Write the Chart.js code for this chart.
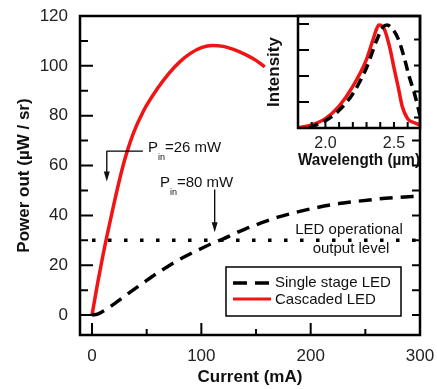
<!DOCTYPE html>
<html>
<head>
<meta charset="utf-8">
<script src="https://cdn.jsdelivr.net/npm/chart.js@4"></script>
<style>
  body { margin: 0; background: #fff; }
  #wrap { position: relative; width: 437px; height: 389px; }
  #main { position: absolute; left: 0; top: 0; }
  #inset { position: absolute; left: 250px; top: 0; }
</style>
</head>
<body>
<div id="wrap">
  <canvas id="main" width="437" height="389"></canvas>
  <canvas id="inset" width="187" height="175"></canvas>
</div>
<script>
// main plot: output power vs drive current
const currentCascaded = [0, 5, 10, 15, 20, 25, 30, 35, 40, 45, 50, 60, 70, 80, 90, 100, 110, 120, 130, 140, 150, 158];
const powerCascaded = [0, 12.5, 24, 34.5, 44.5, 54, 62.5, 69.5, 75.3, 80, 84.2, 91, 96.8, 101.5, 105, 107.3, 108.2, 107.8, 106.5, 104.6, 102.2, 99.6];

const currentSingle = [0, 5, 10, 15, 20, 30, 40, 50, 60, 70, 80, 90, 100, 110, 120, 130, 140, 150, 160, 170, 180, 190, 200, 220, 240, 260, 280, 300];
const powerSingle = [0, 0.4, 1.5, 2.8, 4.4, 7.6, 10.8, 13.9, 16.9, 19.7, 22.3, 24.6, 26.7, 28.8, 30.6, 32.6, 34.5, 36.2, 37.8, 39.3, 40.5, 41.6, 42.6, 44.3, 45.5, 46.5, 47.2, 47.8];

const operationalLevel = 30;
const xTickLabels = [0, 100, 200, 300];
const yTickLabels = [0, 20, 40, 60, 80, 100, 120];

// inset: emission spectra
const wavelengthCascaded = [1.8, 1.9, 2.0, 2.1, 2.2, 2.3, 2.35, 2.39, 2.43, 2.47, 2.5, 2.53, 2.56, 2.6, 2.65, 2.69];
const intensityCascaded = [0, 0.03, 0.09, 0.21, 0.4, 0.66, 0.86, 0.99, 0.95, 0.77, 0.58, 0.4, 0.21, 0.09, 0.05, 0.03];
const wavelengthSingle = [1.88, 1.95, 2.0, 2.1, 2.2, 2.3, 2.37, 2.42, 2.45, 2.49, 2.53, 2.57, 2.61, 2.65, 2.69];
const intensitySingle = [0, 0.04, 0.07, 0.17, 0.33, 0.58, 0.83, 0.97, 0.99, 0.95, 0.86, 0.7, 0.5, 0.33, 0.12];
const insetTickLabels = [2.0, 2.5];

// annotation anchors in data units
const pin26 = { x: 13.5, yTop: 65.8, yTip: 53.6, xEnd: 46.5 };
const pin80 = { x: 112.2, yTop: 50.4, yTip: 33.2 };

const RED = "#f01414";
const FONT = "'Liberation Sans', Arial, sans-serif";

const pts = (xs, ys) => xs.map((x, i) => ({ x, y: ys[i] }));

// drop the extra room chart.js keeps for edge labels
const noPad = s => { s.paddingTop = 0; s.paddingBottom = 0; s.paddingLeft = 0; s.paddingRight = 0; };

function arrow(ctx, x1, y1, x2, y2) {
  ctx.beginPath();
  ctx.moveTo(x1, y1);
  ctx.lineTo(x2, y2 - 8);
  ctx.stroke();
  ctx.beginPath();
  ctx.moveTo(x2, y2);
  ctx.lineTo(x2 - 3, y2 - 10);
  ctx.lineTo(x2 + 3, y2 - 10);
  ctx.closePath();
  ctx.fill();
}

function pinLabel(ctx, x, y, value) {
  ctx.textBaseline = "middle";
  ctx.textAlign = "left";
  ctx.font = "15px " + FONT;
  ctx.fillText("P", x, y);
  let w = ctx.measureText("P").width;
  ctx.font = "9px " + FONT;
  ctx.fillText("in", x + w, y + 10);
  w += ctx.measureText("in").width;
  ctx.font = "15px " + FONT;
  ctx.fillText("=" + value + " mW", x + w, y);
}

function ticksIn(ctx, scale, values, len, side, area) {
  ctx.beginPath();
  values.forEach(v => {
    const p = scale.getPixelForValue(v);
    if (side === "left") { ctx.moveTo(area.left, p); ctx.lineTo(area.left + len, p); }
    if (side === "right") { ctx.moveTo(area.right, p); ctx.lineTo(area.right - len, p); }
    if (side === "bottom") { ctx.moveTo(p, area.bottom); ctx.lineTo(p, area.bottom - len); }
  });
  ctx.stroke();
}

const mainDecor = {
  id: "mainDecor",
  afterDraw(chart) {
    const { ctx, chartArea: a, scales: { x, y } } = chart;
    ctx.save();
    ctx.strokeStyle = "#000";
    ctx.fillStyle = "#111";
    ctx.lineWidth = 2;
    ticksIn(ctx, y, [0, 20, 40, 60, 80, 100], 13, "left", a);
    ticksIn(ctx, y, [10, 30, 50, 70, 90, 110], 8, "left", a);
    ticksIn(ctx, x, [0, 100, 200], 12, "bottom", a);
    ticksIn(ctx, x, [50, 150, 250], 6, "bottom", a);
    ticksIn(ctx, y, [0, 10, 20, 30, 40, 50, 60, 70], 8, "right", a);
    ctx.lineWidth = 2.5;
    ctx.strokeRect(a.left, a.top, a.right - a.left, a.bottom - a.top);

    // arrows
    ctx.lineWidth = 1.3;
    const x26 = x.getPixelForValue(pin26.x), y26 = y.getPixelForValue(pin26.yTop);
    ctx.beginPath();
    ctx.moveTo(x.getPixelForValue(pin26.xEnd), y26);
    ctx.lineTo(x26, y26);
    ctx.stroke();
    arrow(ctx, x26, y26, x26, y.getPixelForValue(pin26.yTip));
    const x80 = x.getPixelForValue(pin80.x);
    arrow(ctx, x80, y.getPixelForValue(pin80.yTop), x80, y.getPixelForValue(pin80.yTip));

    pinLabel(ctx, 148, 148, 26);
    pinLabel(ctx, 160, 183, 80);

    ctx.font = "15px " + FONT;
    ctx.textAlign = "center";
    ctx.textBaseline = "middle";
    ctx.fillText("LED operational", 349, 230);
    ctx.fillText("output level", 351, 249);

    // legend
    ctx.lineWidth = 1.5;
    ctx.strokeRect(226, 267, 175, 49);
    ctx.lineWidth = 3.5;
    ctx.setLineDash([14, 8]);
    ctx.beginPath(); ctx.moveTo(233, 283); ctx.lineTo(271, 283); ctx.stroke();
    ctx.setLineDash([]);
    ctx.strokeStyle = RED;
    ctx.lineWidth = 3;
    ctx.beginPath(); ctx.moveTo(233, 299); ctx.lineTo(271, 299); ctx.stroke();
    ctx.textAlign = "left";
    ctx.fillText("Single stage LED", 275, 283);
    ctx.fillText("Cascaded LED", 275, 300);
    ctx.restore();
  }
};

new Chart(document.getElementById("main"), {
  type: "line",
  data: {
    datasets: [
      {
        data: pts(currentSingle, powerSingle),
        borderColor: "#000", borderWidth: 3.5, borderDash: [13, 8],
        pointRadius: 0, cubicInterpolationMode: "monotone"
      },
      {
        data: pts(currentCascaded, powerCascaded),
        borderColor: RED, borderWidth: 3.5,
        pointRadius: 0, cubicInterpolationMode: "monotone"
      },
      {
        data: [{ x: 0, y: operationalLevel }, { x: 300, y: operationalLevel }],
        borderColor: "#000", borderWidth: 3.5, borderDash: [3.5, 12.5],
        pointRadius: 0
      }
    ]
  },
  options: {
    responsive: false,
    animation: false,
    layout: { padding: { left: 0, top: 16, right: 17, bottom: 0 } },
    plugins: { legend: { display: false }, tooltip: { enabled: false } },
    scales: {
      x: {
        type: "linear", min: -11, max: 300,
        afterBuildTicks: s => { s.ticks = xTickLabels.map(v => ({ value: v })); },
        afterFit: s => { s.height = 54; noPad(s); },
        grid: { display: false, drawTicks: false },
        border: { display: false },
        ticks: { padding: 11, color: "#222", font: { family: FONT, size: 17 } },
        title: { display: true, text: "Current (mA)", color: "#111", padding: { top: 0, bottom: 1 },
                 font: { family: FONT, size: 17, weight: "bold" } }
      },
      y: {
        type: "linear", min: -8, max: 120,
        afterBuildTicks: s => { s.ticks = yTickLabels.map(v => ({ value: v })); },
        afterFit: s => { s.width = 80; noPad(s); },
        grid: { display: false, drawTicks: false },
        border: { display: false },
        ticks: { padding: 12, color: "#222", font: { family: FONT, size: 17 } },
        title: { display: true, text: "Power out (µW / sr)", color: "#111", padding: { top: 14, bottom: 0 },
                 font: { family: FONT, size: 17, weight: "bold" } }
      }
    }
  },
  plugins: [mainDecor]
});

const insetDecor = {
  id: "insetDecor",
  afterDraw(chart) {
    const { ctx, chartArea: a, scales: { x, y } } = chart;
    ctx.save();
    ctx.strokeStyle = "#000";
    ctx.lineWidth = 2;
    ticksIn(ctx, y, [0.25, 0.5, 0.75, 1.0], 11, "left", a);
    ticksIn(ctx, y, [0.1, 0.35, 0.6, 0.85], 6, "right", a);
    ticksIn(ctx, x, [1.9, 2.0, 2.1, 2.2, 2.3, 2.4, 2.5, 2.6], 6, "bottom", a);
    ctx.lineWidth = 2.5;
    ctx.strokeRect(a.left, a.top, a.right - a.left, a.bottom - a.top);
    ctx.restore();
  }
};

new Chart(document.getElementById("inset"), {
  type: "line",
  data: {
    datasets: [
      {
        data: pts(wavelengthSingle, intensitySingle),
        borderColor: "#000", borderWidth: 3.5, borderDash: [10, 6],
        pointRadius: 0, cubicInterpolationMode: "monotone"
      },
      {
        data: pts(wavelengthCascaded, intensityCascaded),
        borderColor: RED, borderWidth: 3.5,
        pointRadius: 0, cubicInterpolationMode: "monotone"
      }
    ]
  },
  options: {
    responsive: false,
    animation: false,
    layout: { padding: { left: 0, top: 16, right: 17, bottom: 0 } },
    plugins: { legend: { display: false }, tooltip: { enabled: false } },
    scales: {
      x: {
        type: "linear", min: 1.8, max: 2.69,
        afterBuildTicks: s => { s.ticks = insetTickLabels.map(v => ({ value: v })); },
        afterFit: s => { s.height = 47; noPad(s); },
        grid: { display: false, drawTicks: false },
        border: { display: false },
        ticks: { padding: 6, color: "#222", font: { family: FONT, size: 16 },
                 callback: v => v.toFixed(1) },
        title: { display: true, text: "Wavelength (µm)", color: "#111", padding: { top: 0, bottom: 4 },
                 font: { family: FONT, size: 17, weight: "bold" } }
      },
      y: {
        type: "linear", min: 0, max: 1.077,
        afterFit: s => { s.width = 48; noPad(s); },
        grid: { display: false, drawTicks: false },
        border: { display: false },
        ticks: { display: false },
        title: { display: true, text: "Intensity", color: "#111", padding: { top: 14, bottom: 0 },
                 font: { family: FONT, size: 17, weight: "bold" } }
      }
    }
  },
  plugins: [insetDecor]
});
</script>
</body>
</html>
